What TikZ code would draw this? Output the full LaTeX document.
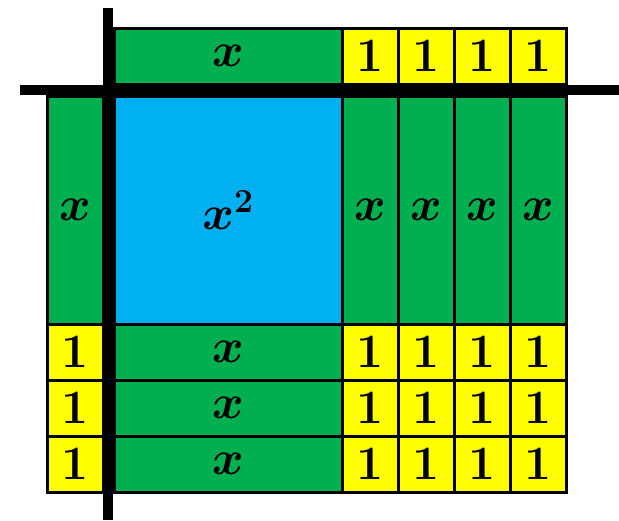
\documentclass[tikz,border=0pt]{standalone}
\usepackage{fix-cm}
\usepackage{tikz}
\definecolor{tilegreen}{RGB}{0,176,80}
\definecolor{tileblue}{RGB}{0,176,240}
\definecolor{tileyellow}{RGB}{255,255,0}
\newcommand{\tilefont}{\fontsize{48}{52}\selectfont\bfseries\boldmath}

\begin{document}
\begin{tikzpicture}[x=1pt,y=-1pt,
  tile/.style={draw=black, line width=3pt, inner sep=0pt, font=\tilefont},
  xbar/.style={tile, fill=tilegreen, minimum width=228pt, minimum height=56pt},
  xcol/.style={tile, fill=tilegreen, minimum width=56pt, minimum height=228pt},
  unitsq/.style={tile, fill=tileyellow, minimum width=56pt, minimum height=56pt},
  axisline/.style={black, line width=10pt}]
\useasboundingbox (0,0) rectangle (619,520);
% top factor
\node[xbar] (topx) at (228,56) {$x$};
\foreach \i in {0,...,3}
  \node[unitsq] (top1-\i) at (370+56*\i,56) {1};
% left factor
\node[xcol] (leftx) at (75,210) {$x$};
\foreach \j in {0,...,2}
  \node[unitsq] (left1-\j) at (75,352+56*\j) {1};
% product
\node[tile, fill=tileblue, minimum width=228pt, minimum height=228pt] (sq) at (228,210) {$x^2$};
\foreach \i in {0,...,3}
  \node[xcol] (col-\i) at (370+56*\i,210) {$x$};
\foreach \j in {0,...,2} {
  \node[xbar] (row-\j) at (228,352+56*\j) {$x$};
  \foreach \i in {0,...,3}
    \node[unitsq] (u-\i-\j) at (370+56*\i,352+56*\j) {1};
}
% axes
\coordinate (vtop) at (108,8);
\coordinate (vbot) at (108,520);
\coordinate (hleft) at (20,90);
\coordinate (hright) at (619,90);
\draw[axisline] (vtop) -- (vbot);
\draw[axisline] (hleft) -- (hright);
\end{tikzpicture}
\end{document}
